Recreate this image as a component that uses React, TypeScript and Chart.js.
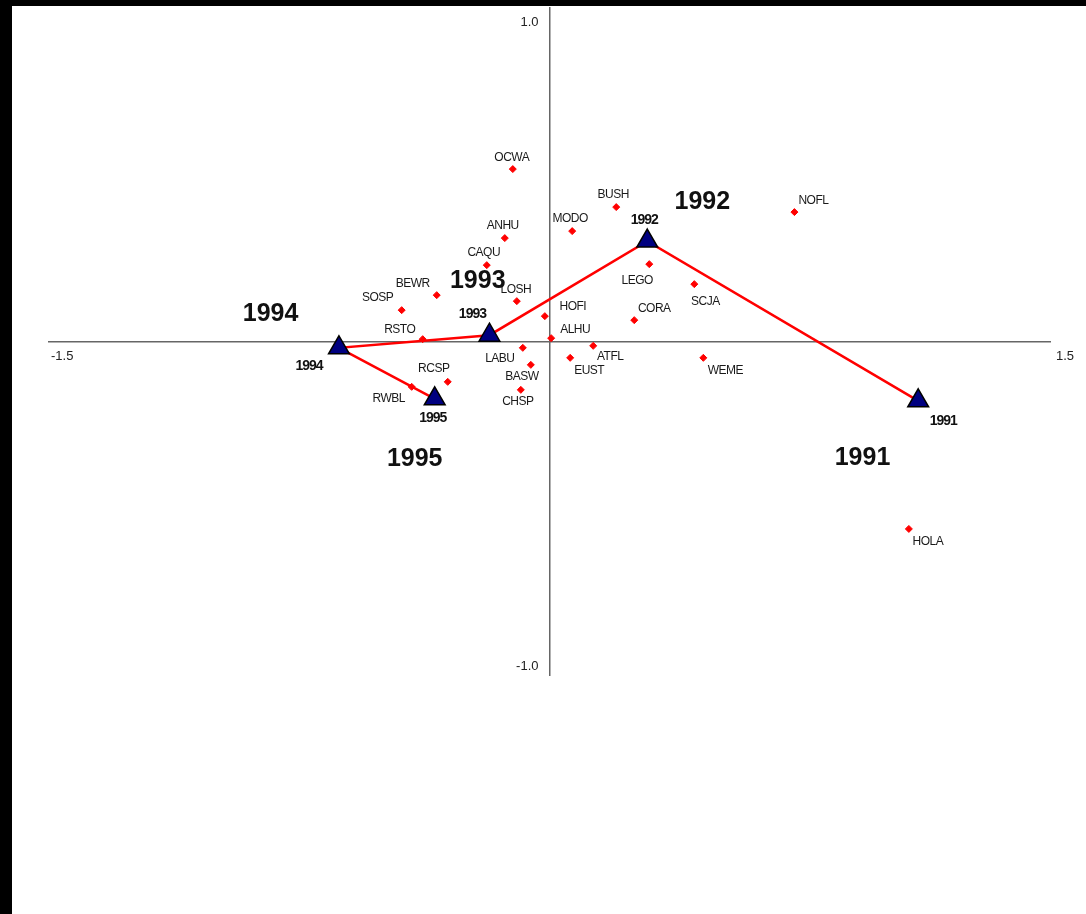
import React, { useEffect, useRef } from "react";
import { Chart, registerables } from "chart.js";

Chart.register(...registerables);

// Species scores (axis 1, axis 2)
const speciesCodes = ["OCWA", "BUSH", "NOFL", "MODO", "ANHU", "CAQU", "LEGO", "SCJA", "BEWR", "LOSH", "SOSP", "HOFI", "CORA", "RSTO", "ALHU", "LABU", "ATFL", "EUST", "BASW", "WEME", "RCSP", "RWBL", "CHSP", "HOLA"];
const speciesAxis1 = [-0.11, 0.2, 0.734, 0.068, -0.134, -0.188, 0.299, 0.434, -0.338, -0.098, -0.443, -0.014, 0.254, -0.38, 0.005, -0.08, 0.131, 0.062, -0.056, 0.461, -0.305, -0.413, -0.086, 1.077];
const speciesAxis2 = [0.517, 0.403, 0.388, 0.331, 0.31, 0.229, 0.232, 0.172, 0.139, 0.121, 0.094, 0.076, 0.064, 0.007, 0.01, -0.019, -0.013, -0.049, -0.07, -0.049, -0.121, -0.136, -0.145, -0.562];

// Year scores (connected in chronological order)
const years = ["1991", "1992", "1993", "1994", "1995"];
const yearAxis1 = [1.105, 0.293, -0.18, -0.631, -0.344];
const yearAxis2 = [-0.178, 0.301, 0.019, -0.019, -0.172];

// Large year annotations (data coordinates)
const yearTitleAxis1 = [0.938, 0.458, -0.215, -0.836, -0.404];
const yearTitleAxis2 = [-0.349, 0.418, 0.181, 0.082, -0.352];

// Axis ticks
const xTickValues = [-1.5, 1.5];
const xTickLabels = ["-1.5", "1.5"];
const yTickValues = [1.0, -1.0];
const yTickLabels = ["1.0", "-1.0"];

// Label placement (pixel offsets, style only)
const speciesLabelOffset: [number, number][] = [
  [-1, -11], [-3, -12], [19, -11], [-2, -12], [-2, -12], [-3, -12], [-12, 17], [11, 18],
  [-24, -11], [-1, -11], [-24, -12], [28, -9], [20, -11], [-23, -9], [24, -8], [-23, 11],
  [17, 11], [19, 13], [-9, 12], [22, 13], [-14, -13], [-23, 12], [-3, 12], [19, 13],
];
const yearLabelOffset: [number, number][] = [[25, 20], [-3, -21], [-17, -21], [-30, 18], [-2, 19]];

const FONT = '"Liberation Sans", Arial, sans-serif';

const annotationPlugin = {
  id: "annotations",
  afterDatasetsDraw(chart: any) {
    const ctx = chart.ctx as CanvasRenderingContext2D;
    const xs = chart.scales.x;
    const ys = chart.scales.y;
    const x0 = xs.getPixelForValue(0);
    const y0 = ys.getPixelForValue(0);
    ctx.save();
    ctx.textBaseline = "middle";

    // tick labels
    ctx.font = `13px ${FONT}`;
    ctx.fillStyle = "#222";
    ctx.textAlign = "left";
    xTickValues.forEach((v, i) => {
      const px = xs.getPixelForValue(v);
      ctx.fillText(xTickLabels[i], px + (v < 0 ? 2 : 6), y0 + 14.5);
    });
    ctx.textAlign = "right";
    yTickValues.forEach((v, i) => {
      const py = ys.getPixelForValue(v);
      ctx.fillText(yTickLabels[i], x0 - 11, py + (v > 0 ? 14.5 : -9));
    });

    // species labels
    const sMeta = chart.getDatasetMeta(1);
    ctx.font = `12px ${FONT}`;
    (ctx as any).letterSpacing = "-0.5px";
    ctx.fillStyle = "#1a1a1a";
    ctx.textAlign = "center";
    speciesCodes.forEach((name, i) => {
      const el = sMeta.data[i];
      const [dx, dy] = speciesLabelOffset[i];
      ctx.fillText(name, el.x + dx, el.y + dy);
    });

    // small year labels
    const yMeta = chart.getDatasetMeta(0);
    ctx.font = `bold 14px ${FONT}`;
    (ctx as any).letterSpacing = "-1px";
    ctx.fillStyle = "#111";
    years.forEach((name, i) => {
      const el = yMeta.data[i];
      const [dx, dy] = yearLabelOffset[i];
      ctx.fillText(name, el.x + dx, el.y + dy);
    });

    // big year labels
    ctx.font = `bold 25px ${FONT}`;
    (ctx as any).letterSpacing = "0px";
    years.forEach((name, i) => {
      ctx.fillText(name, xs.getPixelForValue(yearTitleAxis1[i]), ys.getPixelForValue(yearTitleAxis2[i]));
    });
    ctx.restore();
  },
};

export default function App() {
  const ref = useRef<HTMLCanvasElement>(null);
  useEffect(() => {
    if (!ref.current) return;
    const chart = new Chart(ref.current, {
      type: "scatter",
      data: {
        datasets: [
          {
            label: "Years",
            data: years.map((_, i) => ({ x: yearAxis1[i], y: yearAxis2[i] })),
            showLine: true,
            borderColor: "#ff0000",
            borderWidth: 2.5,
            pointStyle: "triangle",
            pointRadius: 12,
            pointBackgroundColor: "#000080",
            pointBorderColor: "#000000",
            pointBorderWidth: 1.5,
            order: 0,
          } as any,
          {
            label: "Species",
            data: speciesCodes.map((_, i) => ({ x: speciesAxis1[i], y: speciesAxis2[i] })),
            pointStyle: "rectRot",
            pointRadius: 3.5,
            pointBackgroundColor: "#ff0000",
            pointBorderColor: "#ff0000",
            pointBorderWidth: 1,
            order: 1,
          } as any,
        ],
      },
      options: {
        animation: false,
        responsive: false,
        events: [],
        layout: { autoPadding: false, padding: { left: 37, right: 36, top: 2, bottom: 239 } } as any,
        plugins: { legend: { display: false }, tooltip: { enabled: false } },
        scales: {
          x: {
            type: "linear",
            min: -1.5,
            max: 1.5,
            position: { y: 0 } as any,
            grid: { display: false },
            border: { display: true, color: "#666", width: 1.5 },
            ticks: { display: false },
          },
          y: {
            type: "linear",
            min: -1,
            max: 1,
            position: { x: 0 } as any,
            grid: { display: false },
            border: { display: true, color: "#666", width: 1.5 },
            ticks: { display: false },
          },
        },
      },
      plugins: [annotationPlugin],
    });
    return () => chart.destroy();
  }, []);

  return (
    <div style={{ position: "fixed", inset: 0, background: "#000" }}>
      <div style={{ position: "absolute", left: 12, top: 6, width: 1074, height: 908, background: "#fff" }}>
        <canvas ref={ref} width={1074} height={908} style={{ display: "block" }} />
      </div>
    </div>
  );
}
